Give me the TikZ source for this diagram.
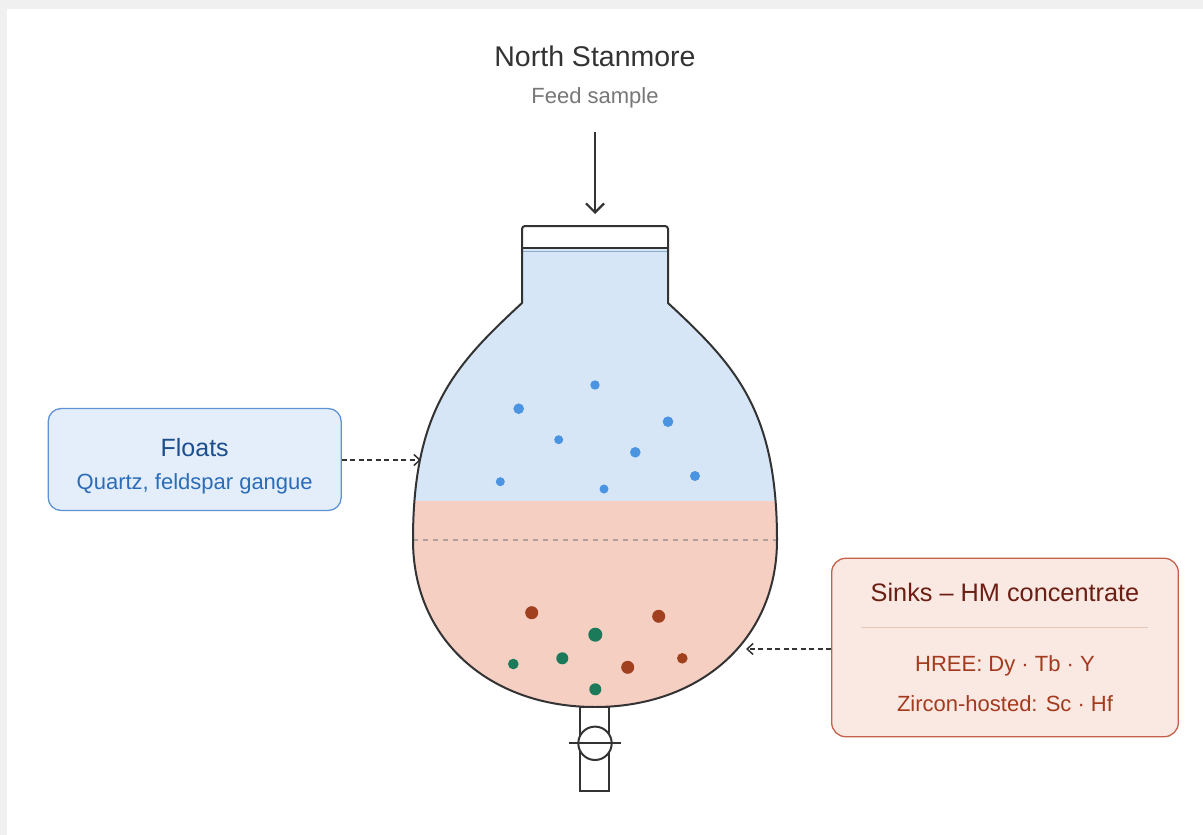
\documentclass[tikz,border=0pt]{standalone}
\usepackage{fontspec}
\setmainfont{Liberation Sans}
\usetikzlibrary{arrows.meta}
\definecolor{bggray}{HTML}{F0F0F0}
\definecolor{liqblue}{HTML}{D6E6F7}
\definecolor{liqred}{HTML}{F6CFC3}
\definecolor{surfline}{HTML}{8FA9C6}
\definecolor{floatsfill}{HTML}{E4EEFA}
\definecolor{floatsdraw}{HTML}{5E93D3}
\definecolor{sinksfill}{HTML}{FAE8E3}
\definecolor{sinksdraw}{HTML}{C4614A}
\definecolor{sepcol}{HTML}{E6C7BC}
\definecolor{dotblue}{HTML}{4A94E2}
\definecolor{dotred}{HTML}{A0401E}
\definecolor{dotgreen}{HTML}{1B7A5A}
\definecolor{inkdark}{HTML}{333333}
\definecolor{feedcol}{HTML}{777777}
\definecolor{floatstitle}{HTML}{1C4E8E}
\definecolor{floatssub}{HTML}{2B6CB8}
\definecolor{sinkstitle}{HTML}{6B1E12}
\definecolor{sinkssub}{HTML}{A33A1E}
\definecolor{dashcol}{HTML}{B0A09A}
\tikzset{
  flaskline/.style={draw=inkdark, line width=2pt},
  txt/.style={inner sep=0pt, anchor=base},
  infobox/.style={rounded corners=13pt, line width=1.3pt, inner sep=0pt},
  callout/.style={draw=inkdark, line width=1.5pt, dash pattern=on 5pt off 3.5pt,
    -{Straight Barb[length=6pt,width=11pt]}},
  feedarrow/.style={draw=inkdark, line width=2.2pt, -{Straight Barb[length=9pt,width=18pt]}},
}
\def\flaskbody{(522,248) -- (522,303) .. controls (455,365) and (413,410) .. (413,540)
  .. controls (413,640) and (490,707) .. (595,707)
  .. controls (700,707) and (777,640) .. (777,540)
  .. controls (777,410) and (735,365) .. (668,303) -- (668,248)}
\begin{document}
\begin{tikzpicture}[x=1pt,y=-1pt]
\useasboundingbox (0,0) rectangle (1203,835);
\fill[bggray] (0,0) rectangle (1203,835);
\fill[white] (7,9) rectangle (1203,835);

% titles
\node[txt, font=\fontsize{28.5}{34}\selectfont, text=inkdark] (title) at (595,66.7) {North Stanmore};
\node[txt, font=\fontsize{22}{26}\selectfont, text=feedcol] (feed) at (595,103.3) {Feed sample};

% liquids
\begin{scope}
\clip \flaskbody -- cycle;
\fill[liqblue] (400,248) rectangle (790,501);
\fill[liqred] (400,501) rectangle (790,720);
\draw[dashcol, line width=1.2pt, dash pattern=on 5pt off 5pt] (413,540) -- (777,540);
\end{scope}
\draw[surfline, line width=1.6pt] (523,251.5) -- (667,251.5);

% floats particles
\foreach \x/\y/\r in {595/385/4.7, 518.7/408.7/5.3, 558.7/439.7/4.5, 668/421.7/5.3,
  635.3/452.3/5.3, 500.3/481.7/4.5, 604/489/4.5, 695/476/5}
  \fill[dotblue] (\x,\y) circle[radius=\r pt];
% sinks particles
\foreach \x/\y/\r in {531.7/612.7/6.5, 658.7/616.3/6.5, 627.7/667.3/6.5, 682.3/658.3/5.3}
  \fill[dotred] (\x,\y) circle[radius=\r pt];
\foreach \x/\y/\r in {595.3/634.7/7, 513.3/664/5.3, 562.3/658.3/6, 595.3/689.3/6}
  \fill[dotgreen] (\x,\y) circle[radius=\r pt];

% flask outline
\fill[white] (522,226) rectangle (668,248);
\draw[flaskline, rounded corners=3pt] (522,248) -- (522,226) -- (668,226) -- (668,248);
\draw[flaskline] (522,248.3) -- (668,248.3);
\draw[flaskline, line join=round] \flaskbody;

% valve
\draw[flaskline, fill=white] (580,707) rectangle (609.3,791);
\draw[flaskline, fill=white] (595,743.3) circle[radius=16.7pt];
\draw[flaskline] (569.3,743.3) -- (620.7,743.3);

% feed arrow
\coordinate (feedtop) at (595,132);
\coordinate (neckin) at (595,214);
\draw[feedarrow] (feedtop) -- (neckin);

% floats box
\node[infobox, draw=floatsdraw, fill=floatsfill, minimum width=293pt, minimum height=102pt]
  (floats) at (194.7,459.5) {};
\node[txt, font=\fontsize{25}{30}\selectfont, text=floatstitle] (floatsT) at (194.7,456) {Floats};
\node[txt, font=\fontsize{22}{26}\selectfont, text=floatssub] (floatsS) at (194.7,489.3) {Quartz, feldspar gangue};
\coordinate (floatsin) at (421,460);
\draw[callout] (floats.east |- floatsin) -- (floatsin);

% sinks box
\node[infobox, rounded corners=14pt, draw=sinksdraw, fill=sinksfill, minimum width=346.6pt, minimum height=178.4pt]
  (sinks) at (1005,647.5) {};
\node[txt, font=\fontsize{25.3}{30}\selectfont, text=sinkstitle] (sinksT) at (1005,601.7) {Sinks – HM concentrate};
\draw[sepcol, line width=1pt] (861,627.3) -- (1148.3,627.3);
\node[txt, font=\fontsize{22}{26}\selectfont, text=sinkssub] (hree) at (1005,671.7) {HREE: Dy · Tb · Y};
\node[txt, font=\fontsize{22}{26}\selectfont, text=sinkssub] (zircon) at (1005,711.7) {Zircon-hosted: Sc · Hf};
\coordinate (sinksin) at (746,649);
\draw[callout] (sinks.west |- sinksin) -- (sinksin);
\end{tikzpicture}
\end{document}
